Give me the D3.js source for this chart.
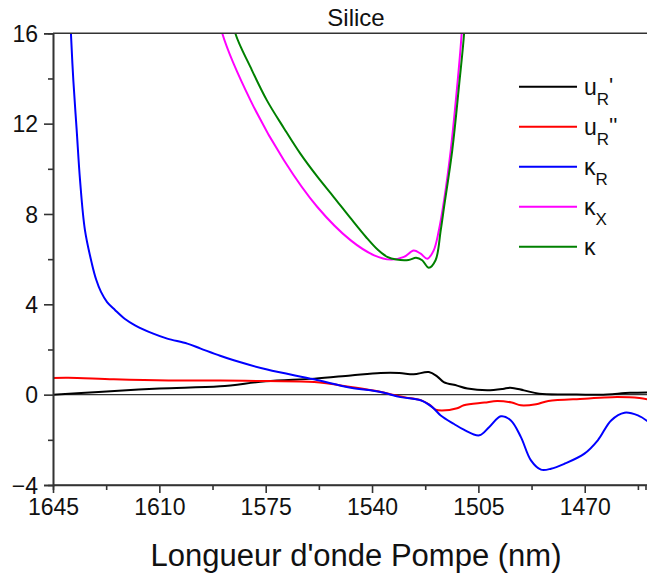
<!DOCTYPE html>
<html><head><meta charset="utf-8">
<script src="https://cdn.jsdelivr.net/npm/d3@7"></script>
<style>
body{margin:0;background:#fff;}
svg{display:block;font-family:"Liberation Sans",Arial,sans-serif;}
</style></head>
<body><svg id="c" width="647" height="573"></svg>
<script>
const title = "Silice";
const xLabel = "Longueur d'onde Pompe (nm)";
const xTicks = [1645, 1610, 1575, 1540, 1505, 1470];
const yTicks = [-4, 0, 4, 8, 12, 16];

// [wavelength nm, value]
const uRp = [[1645,0],[1630,0.12],[1610,0.27],[1590,0.37],[1575,0.59],[1559,0.71],[1547,0.85],[1537.2,0.96],[1531,0.96],[1526.3,0.9],[1521.3,1.0],[1518.5,0.8],[1516.4,0.56],[1512,0.4],[1508.6,0.27],[1502.1,0.19],[1497,0.25],[1494.5,0.31],[1490,0.19],[1485,0.04],[1475,0.01],[1465,0.0],[1455,0.08],[1449,0.1]];
const uRpp = [[1645,0.74],[1640,0.75],[1625,0.68],[1607,0.63],[1590,0.63],[1575,0.6],[1559,0.56],[1547,0.34],[1537,0.12],[1534,0.02],[1529,-0.12],[1524,-0.24],[1521,-0.45],[1519.1,-0.66],[1517,-0.7],[1512,-0.6],[1509.8,-0.47],[1503,-0.35],[1498.8,-0.28],[1494,-0.35],[1491,-0.47],[1486,-0.42],[1482,-0.28],[1470,-0.18],[1461,-0.11],[1452,-0.15],[1449,-0.22]];
const kR = [[1640,19],[1639.1,16],[1638.3,13.9],[1637.2,11.7],[1636.1,9.5],[1634.5,7.3],[1632.2,5.8],[1630.8,5.1],[1629.2,4.55],[1627.2,4.1],[1624.6,3.75],[1621.3,3.35],[1618,3.07],[1612,2.7],[1607.4,2.48],[1600.8,2.26],[1596.4,2.04],[1590,1.72],[1585.5,1.52],[1574.5,1.11],[1559.1,0.68],[1547,0.31],[1537.2,0.12],[1530.6,-0.11],[1524,-0.25],[1520.2,-0.55],[1517.4,-0.92],[1513,-1.3],[1509.8,-1.55],[1504.7,-1.8],[1501.4,-1.43],[1497.6,-0.96],[1494.3,-1.14],[1491,-1.88],[1487.7,-2.91],[1484.4,-3.32],[1481.1,-3.28],[1476.7,-3.06],[1470.1,-2.61],[1465.7,-2.02],[1461.3,-1.14],[1456.9,-0.8],[1452.5,-0.92],[1449,-1.21]];
const kX = [[1591,17.2],[1589.3,16],[1580,13.03],[1569,10.38],[1558,8.31],[1547,6.83],[1539.3,6.17],[1533.8,5.98],[1529.5,6.1],[1526.3,6.38],[1524,6.24],[1521.8,6.02],[1519.7,6.39],[1518,7.28],[1516.3,8.6],[1514.1,10.82],[1511.9,13.77],[1510.5,16],[1510,17.5]];
const kTot = [[1587,17.5],[1585,16],[1580,14.5],[1574.6,13.03],[1569,11.8],[1563.6,10.67],[1558,9.65],[1552.6,8.75],[1547,7.8],[1542,6.98],[1538,6.4],[1535,6.1],[1532,5.98],[1528,5.96],[1525.5,6.06],[1523.5,5.95],[1521.3,5.62],[1519.1,5.95],[1517.4,7.28],[1516.3,8.3],[1513.6,10.82],[1511.3,13.77],[1509.7,16],[1509.2,17.5]];

const series = [
  {data:uRp, color:"#000000", main:"u", sub:"R", sup:"'"},
  {data:uRpp, color:"#ff0000", main:"u", sub:"R", sup:"''"},
  {data:kR, color:"#0000ff", main:"κ", sub:"R", sup:""},
  {data:kX, color:"#ff00ff", main:"κ", sub:"X", sup:""},
  {data:kTot, color:"#008000", main:"κ", sub:"", sup:""}
];

const svg = d3.select("#c");
const L = 53, R = 645.5, T = 33.3, B = 485;
const x = d3.scaleLinear().domain([1645, 1450]).range([L, R]);
const y = d3.scaleLinear().domain([-4, 16]).range([B, T]);

svg.append("defs").append("clipPath").attr("id","clip")
  .append("rect").attr("x",L).attr("y",T).attr("width",R-L+2).attr("height",B-T);

// zero line
svg.append("line").attr("x1",L).attr("x2",647).attr("y1",y(0)).attr("y2",y(0))
  .attr("stroke","#333").attr("stroke-width",1.3);

const line = d3.line().x(d=>x(d[0])).y(d=>y(d[1])).curve(d3.curveCatmullRom.alpha(0.5));
const g = svg.append("g").attr("clip-path","url(#clip)");
series.forEach(s=>{
  g.append("path").attr("d", line(s.data)).attr("fill","none")
   .attr("stroke", s.color).attr("stroke-width",2).attr("stroke-linejoin","round");
});

// axes
const xMinor = d3.range(1645, 1449, -17.5);
const yMinor = d3.range(-4, 16.1, 2);
const ax = svg.append("g").attr("transform",`translate(0,${B})`)
  .call(d3.axisBottom(x).tickValues(xTicks).tickSize(8).tickPadding(6).tickFormat(d3.format("d")));
const axm = svg.append("g").attr("transform",`translate(0,${B})`)
  .call(d3.axisBottom(x).tickValues(xMinor.filter(v=>!xTicks.includes(v))).tickSize(5).tickFormat(""));
const ay = svg.append("g").attr("transform",`translate(${L},0)`)
  .call(d3.axisLeft(y).tickValues(yTicks).tickSize(9).tickPadding(6));
const aym = svg.append("g").attr("transform",`translate(${L},0)`)
  .call(d3.axisLeft(y).tickValues(yMinor.filter(v=>!yTicks.includes(v))).tickSize(5).tickFormat(""));
[ax,axm,ay,aym].forEach(a=>{
  a.select(".domain").attr("stroke","#333").attr("stroke-width",1.6);
  a.selectAll(".tick line").attr("stroke","#333").attr("stroke-width",1.6);
  a.selectAll(".tick text").attr("fill","#111").style("font-size","23px");
});
ax.select(".domain").attr("d",`M${L},0H647`);
ax.selectAll(".tick text").attr("dy","0.71em");
ay.selectAll(".tick text").attr("dy","0.36em");
// top frame
svg.append("line").attr("x1",L).attr("x2",647).attr("y1",T).attr("y2",T)
  .attr("stroke","#333").attr("stroke-width",1.6);

// title
svg.append("text").attr("x",356).attr("y",26).attr("text-anchor","middle")
  .style("font-size","24px").attr("fill","#111").text(title);
svg.append("text").attr("x",356).attr("y",566).attr("text-anchor","middle")
  .style("font-size","31px").attr("fill","#111").text(xLabel);

// legend
const lg = svg.append("g");
series.forEach((s,i)=>{
  const yy = 86.7 + i*40;
  lg.append("line").attr("x1",519).attr("x2",577).attr("y1",yy).attr("y2",yy)
    .attr("stroke",s.color).attr("stroke-width",2);
  const t = lg.append("text").attr("x",584).attr("y",yy+8).attr("fill","#111").style("font-size","23px");
  t.append("tspan").text(s.main);
  if (s.sub) t.append("tspan").attr("dy",10).style("font-size","17px").text(s.sub);
  if (s.sup) t.append("tspan").attr("dy",-12).style("font-size","22px").text(s.sup);
});
</script></body></html>
